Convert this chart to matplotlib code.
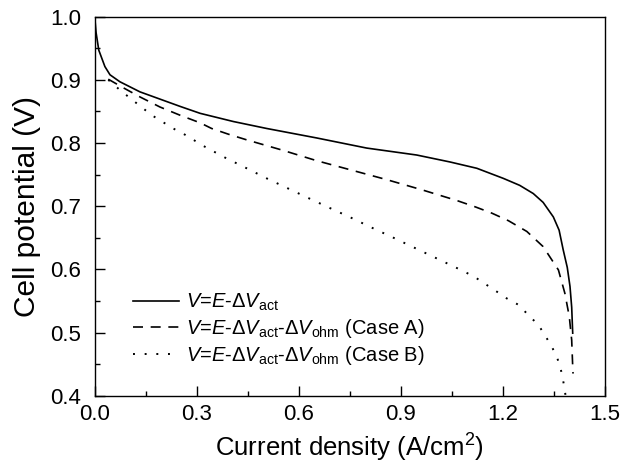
import matplotlib
matplotlib.use("Agg")
import matplotlib.pyplot as plt
from matplotlib.ticker import MultipleLocator

plt.rcParams['font.family'] = ['Liberation Sans', 'DejaVu Sans']
plt.rcParams['mathtext.fontset'] = 'custom'
plt.rcParams['mathtext.rm'] = 'Liberation Sans'
plt.rcParams['mathtext.it'] = 'Liberation Sans:italic'

# V = E - dV_act
i_act = [0.0, 0.004, 0.012, 0.03, 0.045, 0.074, 0.133, 0.251, 0.31, 0.408, 0.506,
         0.653, 0.80, 0.947, 1.045, 1.124, 1.202, 1.25, 1.29, 1.319, 1.349, 1.366,
         1.378, 1.39, 1.398, 1.403, 1.406]
v_act = [1.0, 0.975, 0.947, 0.921, 0.908, 0.897, 0.881, 0.858, 0.847, 0.834, 0.823,
         0.808, 0.792, 0.781, 0.770, 0.760, 0.744, 0.733, 0.720, 0.706, 0.683, 0.662,
         0.631, 0.603, 0.573, 0.54, 0.499]

# Case A
i_a = [0.04, 0.079, 0.133, 0.192, 0.251, 0.31, 0.344, 0.393, 0.447, 0.55, 0.653,
       0.756, 0.859, 0.962, 1.065, 1.119, 1.168, 1.217, 1.271, 1.319, 1.364, 1.383,
       1.396, 1.403, 1.406, 1.407]
v_a = [0.901, 0.889, 0.873, 0.857, 0.844, 0.832, 0.823, 0.814, 0.805, 0.789, 0.772,
       0.757, 0.742, 0.726, 0.709, 0.699, 0.689, 0.677, 0.660, 0.636, 0.599, 0.562,
       0.525, 0.488, 0.446, 0.435]

# Case B
i_b = [0.04, 0.074, 0.109, 0.168, 0.231, 0.266, 0.321, 0.383, 0.447, 0.506, 0.569,
       0.628, 0.692, 0.753, 0.815, 0.875, 0.98, 1.089, 1.123, 1.182, 1.212, 1.246,
       1.275, 1.305, 1.324, 1.344, 1.359, 1.369, 1.376, 1.381, 1.385]
v_b = [0.900, 0.884, 0.869, 0.844, 0.823, 0.813, 0.795, 0.777, 0.760, 0.744, 0.728,
       0.713, 0.697, 0.682, 0.666, 0.651, 0.624, 0.596, 0.586, 0.565, 0.554, 0.544,
       0.528, 0.512, 0.496, 0.478, 0.462, 0.446, 0.430, 0.414, 0.400]

labels = [r'$V$=$E$-$\Delta V_{\mathrm{act}}$',
          r'$V$=$E$-$\Delta V_{\mathrm{act}}$-$\Delta V_{\mathrm{ohm}}$ (Case A)',
          r'$V$=$E$-$\Delta V_{\mathrm{act}}$-$\Delta V_{\mathrm{ohm}}$ (Case B)']

fig = plt.figure(figsize=(6.21, 4.66), dpi=100)
ax = fig.add_axes([0.1525, 0.1509, 0.8212, 0.8133])

ax.plot(i_act, v_act, color='black', lw=1.2, label=labels[0])
ax.plot(i_a, v_a, color='black', lw=1.2, linestyle=(0, (6, 4.6)), label=labels[1])
ax.plot(i_b, v_b, color='black', lw=1.4, linestyle=(0, (1, 5)), label=labels[2])

ax.set_xlim(0, 1.5)
ax.set_ylim(0.4, 1.0)
ax.xaxis.set_major_locator(MultipleLocator(0.3))
ax.xaxis.set_minor_locator(MultipleLocator(0.15))
ax.yaxis.set_major_locator(MultipleLocator(0.1))
ax.yaxis.set_minor_locator(MultipleLocator(0.05))
ax.xaxis.set_major_formatter(plt.FormatStrFormatter('%.1f'))
ax.yaxis.set_major_formatter(plt.FormatStrFormatter('%.1f'))

ax.tick_params(which='both', direction='in', top=False, right=False, width=1.0)
ax.tick_params(which='major', length=7.2, labelsize=16)
ax.tick_params(which='minor', length=3.6)
ax.tick_params(axis='x', which='major', pad=6)
ax.tick_params(axis='y', which='major', pad=10)
for s in ax.spines.values():
    s.set_linewidth(1.0)

ax.set_xlabel(r'Current density (A/cm$^2$)', fontsize=18.5, labelpad=5)
ax.set_ylabel('Cell potential (V)', fontsize=21.5, labelpad=6)

ax.legend(loc='lower left', bbox_to_anchor=(0.075, 0.075), frameon=False,
          fontsize=14.5, handlelength=2.3, handletextpad=0.35, labelspacing=0.2,
          borderpad=0, borderaxespad=0)

fig.savefig('out.png', dpi=100)
